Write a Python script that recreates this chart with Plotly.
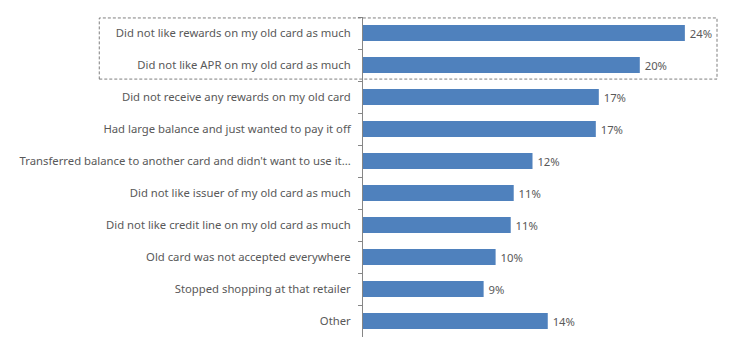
import plotly.graph_objects as go

categories = [
    "Did not like rewards on my old card as much",
    "Did not like APR on my old card as much",
    "Did not receive any rewards on my old card",
    "Had large balance and just wanted to pay it off",
    "Transferred balance to another card and didn't want to use it...",
    "Did not like issuer of my old card as much",
    "Did not like credit line on my old card as much",
    "Old card was not accepted everywhere",
    "Stopped shopping at that retailer",
    "Other",
]
values = [23.64, 20.33, 17.32, 17.10, 12.45, 11.07, 10.85, 9.74, 8.86, 13.57]
labels = [f"{round(v)}%" for v in values]

FONT = "Noto Sans"
TXT = "#595959"

fig = go.Figure(go.Bar(
    x=values, y=categories, orientation="h",
    marker=dict(color="#4F81BD", line=dict(width=0)),
    width=0.5,
    text=labels, textposition="outside", cliponaxis=False,
    texttemplate="\u2009%{text}",
    textfont=dict(family=FONT, size=11.3, color=TXT),
    hoverinfo="skip",
))

fig.update_layout(
    width=731, height=337,
    margin=dict(l=363, r=14, t=17, b=0),
    paper_bgcolor="white", plot_bgcolor="white",
    showlegend=False,
    font=dict(family=FONT, size=11.3, color=TXT),
    xaxis=dict(range=[0, 26], visible=False, showgrid=False, zeroline=False),
    yaxis=dict(
        autorange="reversed", type="category",
        showline=True, linecolor="#868686", linewidth=1,
        ticks="outside", ticklen=4, tickcolor="#868686",
        tickson="boundaries", showgrid=False,
        tickfont=dict(family=FONT, size=11.3, color=TXT),
        ticklabelstandoff=9,
    ),
    shapes=[dict(
        type="rect", xref="paper", yref="paper",
        x0=-0.745, x1=1.0, y0=0.806, y1=0.997,
        line=dict(color="#7F7F7F", width=1, dash="3px,2px"),
        fillcolor="rgba(0,0,0,0)",
    )],
)

fig.write_html("out.html")
